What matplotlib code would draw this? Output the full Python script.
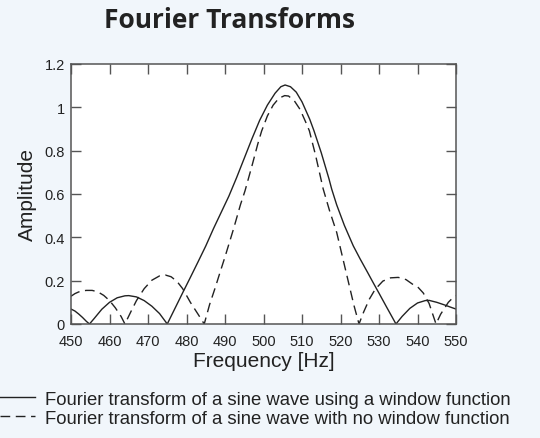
import matplotlib
matplotlib.use("Agg")
import matplotlib.pyplot as plt

# windowed transform (solid)
freq_win = [450, 451, 452, 453, 454, 454.8, 456, 458, 460, 462, 464, 465, 467, 469, 471, 473, 475,
            477, 479, 481, 483, 485, 487, 489, 491, 493, 495, 497, 499, 501, 503, 504.5, 505.6,
            507, 508.5, 510, 512, 513.1, 515, 517, 517.7, 519, 521, 523.3, 525.1, 527, 528.5,
            530, 532, 533.5, 534.4, 536, 538, 540, 542, 543, 545, 547, 549, 550]
amp_win = [0.069, 0.060, 0.046, 0.030, 0.012, 0.0, 0.025, 0.068, 0.100, 0.121, 0.130, 0.131, 0.125,
           0.108, 0.082, 0.048, 0.0,
           0.072, 0.144, 0.215, 0.287, 0.36, 0.44, 0.515, 0.59, 0.675, 0.765, 0.855, 0.94, 1.01,
           1.065, 1.095, 1.103,
           1.095, 1.07, 1.025, 0.945, 0.892, 0.79, 0.67, 0.623, 0.55, 0.455, 0.361, 0.30, 0.239,
           0.19, 0.142, 0.077, 0.029, 0.0, 0.035, 0.072, 0.097, 0.108, 0.109, 0.10, 0.088, 0.075, 0.069]

# no window (dashed)
freq_raw = [450, 451, 452, 453, 454, 455.5, 457, 458.5, 460, 461.5, 463, 464, 465.5, 467, 469, 471,
            473, 474.5, 476, 477.5, 479, 481, 483, 484.6, 486, 487.5, 488.7, 490, 492.2, 494,
            495.2, 497, 498.5, 499.5, 501, 502.5, 504, 505.5, 506.5, 508, 509.5, 511, 511.9,
            513.5, 515.5, 517.2, 519, 520.5, 522.5, 523.5, 524.8, 526, 527.5, 529, 531, 533,
            535, 537, 539, 540, 541.5, 543, 544.8, 546, 548, 549, 550]
amp_raw = [0.128, 0.14, 0.148, 0.153, 0.155, 0.155, 0.148, 0.132, 0.108, 0.075, 0.035, 0.0, 0.055,
           0.108, 0.163, 0.202, 0.222, 0.226, 0.218, 0.197, 0.163, 0.10, 0.045, 0.0, 0.09, 0.17,
           0.238, 0.31, 0.438, 0.55, 0.615, 0.73, 0.83, 0.89, 0.96, 1.01, 1.042, 1.054, 1.052,
           1.03, 0.99, 0.93, 0.892, 0.78, 0.623, 0.52, 0.423, 0.31, 0.16, 0.085, 0.0, 0.055,
           0.115, 0.16, 0.198, 0.213, 0.215, 0.205, 0.18, 0.172, 0.143, 0.095, 0.0, 0.045, 0.1,
           0.118, 0.13]

xticks = list(range(450, 551, 10))
yticks = [0, 0.2, 0.4, 0.6, 0.8, 1.0, 1.2]
ytick_labels = ["0", "0.2", "0.4", "0.6", "0.8", "1", "1.2"]

bg = "#f1f6fb"
ink = "#222222"
plt.rcParams["font.family"] = ["Liberation Sans", "DejaVu Sans"]

fig = plt.figure(figsize=(5.4, 4.39), dpi=100, facecolor=bg)
ax = fig.add_axes([0.1315, 0.2597, 0.713, 0.5923])
ax.set_facecolor("white")

l1, = ax.plot(freq_win, amp_win, color=ink, lw=1.0)
l2, = ax.plot(freq_raw, amp_raw, color=ink, lw=1.0, linestyle=(0, (7, 4)))

ax.set_xlim(450, 550)
ax.set_ylim(0, 1.2)
ax.set_xticks(xticks)
ax.set_yticks(yticks)
ax.set_yticklabels(ytick_labels)
ax.tick_params(direction="in", length=7, width=1.0, color="#555555",
               top=True, right=True, labelsize=10.5, labelcolor=ink)
ax.tick_params(axis="x", pad=7.5)
ax.tick_params(axis="y", pad=4.5)
for s in ax.spines.values():
    s.set_color("#555555")
    s.set_linewidth(1.1)

ax.set_xlabel("Frequency [Hz]", fontsize=15, color=ink, labelpad=2)
ax.set_ylabel("Amplitude", fontsize=15, color=ink, labelpad=5)

fig.text(0.425, 0.953, "Fourier Transforms", ha="center", va="center",
         fontsize=19, fontweight="bold", family="Open Sans", color=ink)

fig.legend([l1, l2],
           ["Fourier transform of a sine wave using a window function",
            "Fourier transform of a sine wave with no window function"],
           loc="upper left", bbox_to_anchor=(0.0, 0.108), frameon=False,
           fontsize=13.3, handlelength=1.9, handletextpad=0.55, labelspacing=0.12,
           borderaxespad=0, borderpad=0, labelcolor=ink)

fig.savefig("out.png", dpi=100, facecolor=bg)
